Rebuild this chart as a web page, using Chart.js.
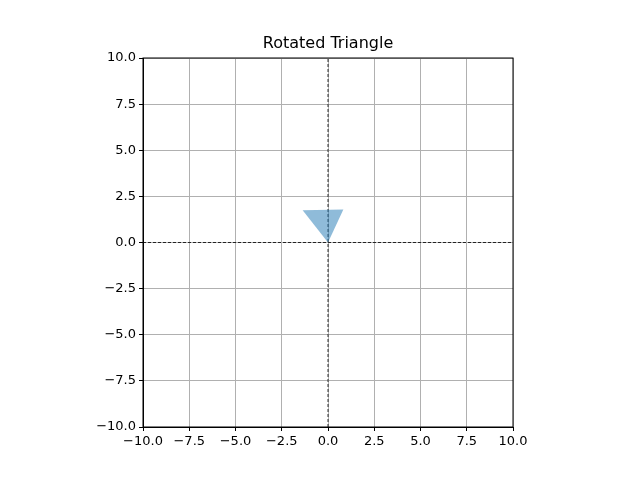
<!DOCTYPE html>
<html>
<head>
<meta charset="utf-8">
<script src="https://cdn.jsdelivr.net/npm/chart.js@4"></script>
<style>
  html, body { margin: 0; padding: 0; background: #fff; }
  #wrap { width: 640px; height: 480px; }
</style>
</head>
<body>
<div id="wrap"><canvas id="c"></canvas></div>
<script>
// Triangle vertices (closed polygon)
const triX = [0, 0.83, -1.37, 0];
const triY = [0, 1.79, 1.75, 0];
const tickValues = [-10, -7.5, -5, -2.5, 0, 2.5, 5, 7.5, 10];
const axisRange = [-10, 10];
const titleText = 'Rotated Triangle';

const fmt = v => (v < 0 ? '\u2212' : '') + Math.abs(v).toFixed(1);

const tickOpts = {
    color: '#000',
    font: { family: 'DejaVu Sans', size: 13 },
    callback: v => fmt(v),
    maxRotation: 0,
    autoSkip: false
};

new Chart(document.getElementById('c'), {
    type: 'scatter',
    data: {
        datasets: [
            {
                data: triX.map((x, i) => ({ x: x, y: triY[i] })),
                showLine: true,
                fill: 'shape',
                backgroundColor: 'rgba(31,119,180,0.5)',
                borderColor: 'rgba(0,0,0,0)',
                borderWidth: 0,
                pointRadius: 0,
                tension: 0
            },
            {
                data: axisRange.map(x => ({ x: x, y: 0 })),
                showLine: true,
                borderColor: '#000',
                borderWidth: 0.8,
                borderDash: [3, 2],
                pointRadius: 0
            },
            {
                data: axisRange.map(y => ({ x: 0, y: y })),
                showLine: true,
                borderColor: '#000',
                borderWidth: 0.8,
                borderDash: [3, 2],
                pointRadius: 0
            }
        ]
    },
    options: {
        responsive: true,
        maintainAspectRatio: false,
        animation: false,
        layout: { padding: { left: 0, right: 127, top: 58, bottom: 0 } },
        plugins: {
            legend: { display: false },
            tooltip: { enabled: false },
            title: { display: false }
        },
        scales: {
            x: {
                type: 'linear',
                min: -10, max: 10,
                afterBuildTicks: s => { s.ticks = tickValues.map(v => ({ value: v })); },
                afterFit: s => { s.height = 53; },
                ticks: tickOpts,
                grid: { color: '#b0b0b0', lineWidth: 1, tickLength: 4, tickColor: '#000' },
                border: { color: '#000', width: 1 }
            },
            y: {
                type: 'linear',
                min: -10, max: 10,
                afterBuildTicks: s => { s.ticks = tickValues.map(v => ({ value: v })); },
                afterFit: s => { s.width = 143; },
                ticks: tickOpts,
                grid: { color: '#b0b0b0', lineWidth: 1, tickLength: 4, tickColor: '#000' },
                border: { color: '#000', width: 1 }
            }
        }
    },
    plugins: [{
        id: 'frame',
        afterDraw(chart) {
            const a = chart.chartArea, ctx = chart.ctx;
            ctx.save();
            ctx.strokeStyle = '#000';
            ctx.lineWidth = 1;
            ctx.strokeRect(a.left, a.top, a.right - a.left, a.bottom - a.top);
            // title centred over the plot area
            ctx.fillStyle = '#000';
            ctx.font = '16px "DejaVu Sans"';
            ctx.textAlign = 'center';
            ctx.textBaseline = 'middle';
            ctx.fillText(titleText, (a.left + a.right) / 2, 44);
            ctx.restore();
        }
    }]
});
</script>
</body>
</html>
